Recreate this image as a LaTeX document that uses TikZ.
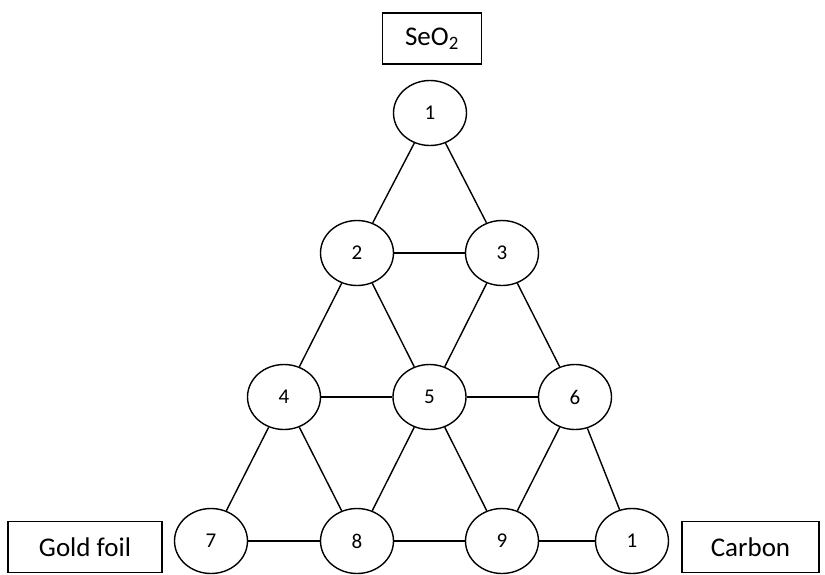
\documentclass[tikz,border=0pt]{standalone}
\usepackage{fontspec}
\setmainfont{Carlito}
\usetikzlibrary{shapes.geometric}
\begin{document}
\begin{tikzpicture}[x=1pt,y=-1pt,
  circ/.style={ellipse,draw,line width=1.4pt,minimum width=73pt,minimum height=65pt,inner sep=0pt,font=\fontsize{21}{24}\selectfont},
  lbl/.style={rectangle,draw,line width=1.2pt,inner sep=0pt,font=\fontsize{27}{31}\selectfont},
  edge/.style={line width=1.4pt}]
\useasboundingbox (0,0) rectangle (825,574);
\node[lbl,minimum width=99pt,minimum height=51pt] (seo) at (432,38.5) {SeO\textsubscript{2}};
\node[lbl,minimum width=154pt,minimum height=51pt] (gold) at (85,547) {Gold foil};
\node[lbl,minimum width=137pt,minimum height=51pt] (carbon) at (750.5,547) {Carbon};
\node[circ] (n1) at (430,113) {1};
\node[circ] (n2) at (357,253) {2};
\node[circ] (n3) at (502,253) {3};
\node[circ] (n4) at (284,397) {4};
\node[circ] (n5) at (429.5,397) {5};
\node[circ] (n6) at (575,397) {6};
\node[circ] (n7) at (211,541) {7};
\node[circ] (n8) at (357,541) {8};
\node[circ] (n9) at (502,541) {9};
\node[circ] (n10) at (632,541) {1};
\foreach \a/\b in {n1/n2,n1/n3,n2/n3,n2/n4,n2/n5,n3/n5,n3/n6,n4/n5,n5/n6,n4/n7,n4/n8,n5/n8,n5/n9,n6/n9,n6/n10,n7/n8,n8/n9,n9/n10}
  \draw[edge] (\a) -- (\b);
\end{tikzpicture}
\end{document}
